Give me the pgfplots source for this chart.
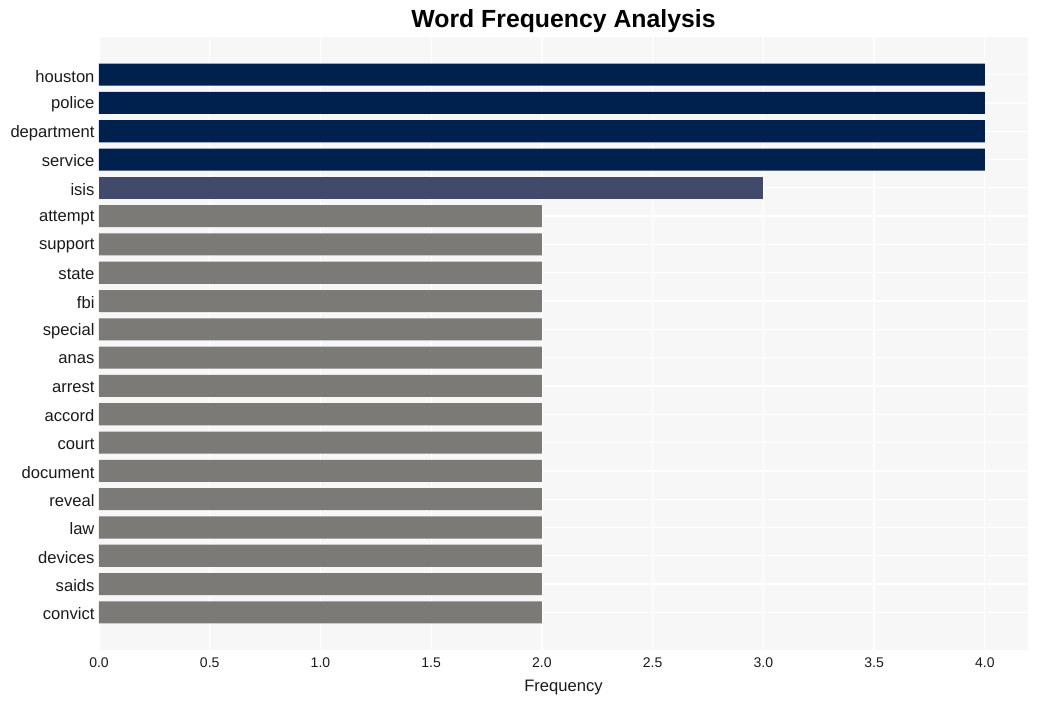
\documentclass[border=0pt]{standalone}
\usepackage{pgfplots}
\pgfplotsset{compat=1.18}
\usepackage{fontspec}
\setmainfont{Liberation Sans}
\definecolor{navy}{HTML}{00204E}
\definecolor{slate}{HTML}{414A6B}
\definecolor{stone}{HTML}{7B7A77}
\definecolor{bgc}{HTML}{F7F7F7}
\definecolor{txt}{HTML}{1A1A1A}
\begin{document}
\begin{tikzpicture}
\begin{axis}[
  scale only axis,
  width=929bp, height=613bp,
  xbar, bar shift=0pt, bar width=0.78,
  xmin=0, xmax=4.195,
  ymin=-1.33, ymax=20.33,
  y dir=reverse,
  axis background/.style={fill=bgc},
  axis line style={draw=none},
  major tick length=0pt,
  xtick={0,0.5,1,1.5,2,2.5,3,3.5,4},
  xticklabel style={/pgf/number format/fixed,/pgf/number format/fixed zerofill,/pgf/number format/precision=1},
  /pgf/number format/assume math mode=true,
  ytick={0,...,19},
  yticklabels={houston,police,department,service,isis,attempt,support,state,fbi,special,anas,arrest,accord,court,document,reveal,law,devices,saids,convict},
  yticklabel style={font=\fontsize{16.6bp}{19bp}\selectfont, text=txt, xshift=-1bp, yshift=-1.5bp},
  xticklabel style={font=\fontsize{14bp}{16bp}\selectfont, text=txt, yshift=-4bp},
  grid=major,
  major grid style={draw=white, line width=1.3bp},
  xlabel={Frequency},
  xlabel style={font=\fontsize{16.6bp}{19bp}\selectfont, text=txt, yshift=-6bp},
  title={Word Frequency Analysis},
  title style={font=\fontsize{24.8bp}{28bp}\selectfont\bfseries, yshift=-5bp},
]
\addplot[draw=none, fill=navy] coordinates {(4,0) (4,1) (4,2) (4,3)};
\addplot[draw=none, fill=slate] coordinates {(3,4)};
\addplot[draw=none, fill=stone] coordinates {(2,5) (2,6) (2,7) (2,8) (2,9) (2,10) (2,11) (2,12) (2,13) (2,14) (2,15) (2,16) (2,17) (2,18) (2,19)};
\end{axis}
\useasboundingbox ([shift={(-99bp,-51bp)}]current axis.south west) rectangle ([shift={(11bp,37bp)}]current axis.north east);
\end{tikzpicture}
\end{document}
